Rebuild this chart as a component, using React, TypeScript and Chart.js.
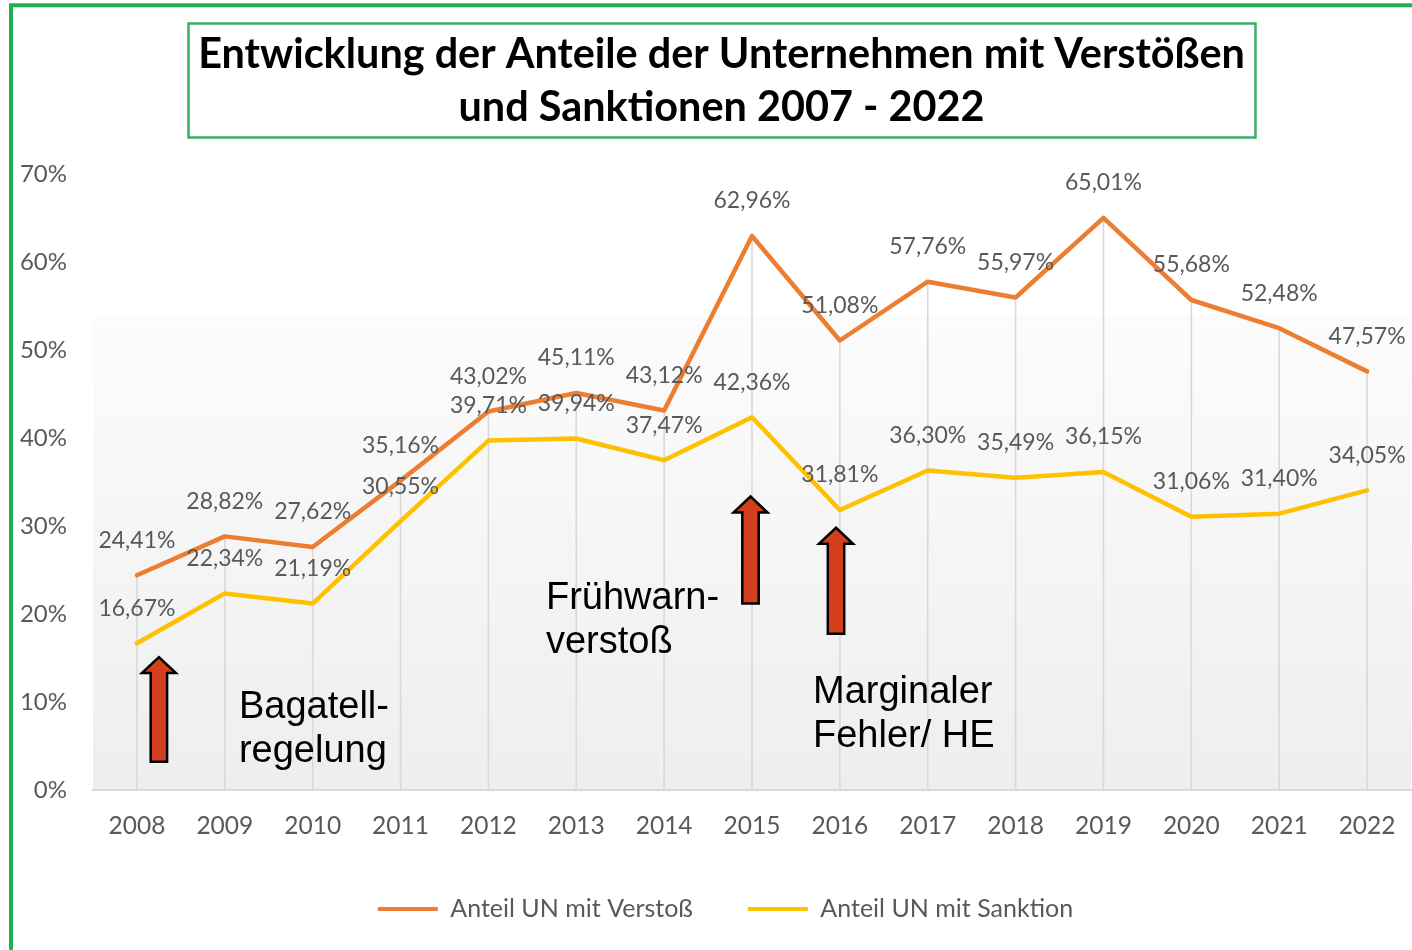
import React, { useEffect, useRef } from 'react';
import { Chart, registerables } from 'chart.js';

Chart.register(...registerables);

const years = ['2008', '2009', '2010', '2011', '2012', '2013', '2014', '2015', '2016', '2017', '2018', '2019', '2020', '2021', '2022'];
const verstoss = [24.41, 28.82, 27.62, 35.16, 43.02, 45.11, 43.12, 62.96, 51.08, 57.76, 55.97, 65.01, 55.68, 52.48, 47.57];
const sanktion = [16.67, 22.34, 21.19, 30.55, 39.71, 39.94, 37.47, 42.36, 31.81, 36.3, 35.49, 36.15, 31.06, 31.4, 34.05];
const seriesNames = ['Anteil UN mit Verstoß', 'Anteil UN mit Sanktion'];
const seriesColors = ['#ED7D31', '#FFC000'];
const titleLines = ['Entwicklung der Anteile der Unternehmen mit Verstößen', 'und Sanktionen 2007 - 2022'];
const yMin = 0;
const yMax = 70;
const yStep = 10;

// annotations in data units (x: category index, y: percent)
const notes = [
  { lines: ['Bagatell-', 'regelung'], x: 1.161, y: 8.19 },
  { lines: ['Frühwarn-', 'verstoß'], x: 4.655, y: 20.6 },
  { lines: ['Marginaler', 'Fehler/ HE'], x: 7.694, y: 9.9 },
];
const arrows = [
  { x: 0.25, tip: 15.1, base: 3.2 },
  { x: 6.983, tip: 33.35, base: 21.2 },
  { x: 7.956, tip: 29.8, base: 17.75 },
];

const fmt = (v: number) => v.toFixed(2).replace('.', ',') + '%';
const GRAY = '#595959';

const decorPlugin = {
  id: 'decor',
  afterLayout(chart: any) {
    if (chart.legend) {
      chart.legend.left = 40;
    }
  },
  beforeDraw(chart: any) {
    const { ctx, chartArea: a, scales } = chart;
    const y = scales.y;
    ctx.save();
    ctx.fillStyle = '#ffffff';
    ctx.fillRect(0, 0, chart.width, chart.height);
    const top = y.getPixelForValue(54);
    const g = ctx.createLinearGradient(0, top, 0, a.bottom);
    g.addColorStop(0, '#fcfcfc');
    g.addColorStop(1, '#eeeeee');
    ctx.fillStyle = g;
    ctx.fillRect(a.left, top, a.right - a.left, a.bottom - top);
    ctx.restore();
  },
  beforeDatasetsDraw(chart: any) {
    const { ctx, chartArea: a } = chart;
    const m0 = chart.getDatasetMeta(0).data;
    const m1 = chart.getDatasetMeta(1).data;
    ctx.save();
    ctx.strokeStyle = '#d9d9d9';
    ctx.lineWidth = 1.6;
    for (let i = 0; i < m0.length; i++) {
      const top = Math.min(m0[i].y, m1[i].y);
      ctx.beginPath();
      ctx.moveTo(m0[i].x, top);
      ctx.lineTo(m0[i].x, a.bottom);
      ctx.stroke();
    }
    ctx.restore();
  },
  afterDatasetsDraw(chart: any) {
    const { ctx } = chart;
    ctx.save();
    ctx.font = '23px Lato';
    ctx.fillStyle = GRAY;
    ctx.textAlign = 'center';
    ctx.textBaseline = 'middle';
    chart.data.datasets.forEach((ds: any, di: number) => {
      const meta = chart.getDatasetMeta(di);
      meta.data.forEach((p: any, i: number) => {
        ctx.fillText(fmt(ds.data[i]), p.x, p.y - 35);
      });
    });
    ctx.restore();
  },
  afterDraw(chart: any) {
    const { ctx, scales } = chart;
    const xs = scales.x;
    const ys = scales.y;
    ctx.save();
    // arrows
    arrows.forEach((ar) => {
      const cx = xs.getPixelForValue(ar.x);
      const tip = ys.getPixelForValue(ar.tip);
      const base = ys.getPixelForValue(ar.base);
      const sw = 8.2;
      const hw = 17;
      const hh = 16;
      ctx.beginPath();
      ctx.moveTo(cx, tip);
      ctx.lineTo(cx + hw, tip + hh);
      ctx.lineTo(cx + sw, tip + hh);
      ctx.lineTo(cx + sw, base);
      ctx.lineTo(cx - sw, base);
      ctx.lineTo(cx - sw, tip + hh);
      ctx.lineTo(cx - hw, tip + hh);
      ctx.closePath();
      ctx.fillStyle = '#d4401f';
      ctx.fill();
      ctx.lineWidth = 2.5;
      ctx.strokeStyle = '#000000';
      ctx.lineJoin = 'miter';
      ctx.stroke();
    });
    // notes
    ctx.font = '38px "Liberation Sans", Arial, sans-serif';
    ctx.fillStyle = '#000000';
    ctx.textAlign = 'left';
    ctx.textBaseline = 'alphabetic';
    notes.forEach((n) => {
      const x = xs.getPixelForValue(n.x);
      const y = ys.getPixelForValue(n.y);
      n.lines.forEach((l, i) => ctx.fillText(l, x, y + i * 44));
    });
    // title box
    ctx.strokeStyle = '#3aae66';
    ctx.lineWidth = 2.5;
    ctx.strokeRect(188.5, 23.5, 1067, 114);
    let size = 36;
    ctx.font = `bold ${size}px Lato`;
    const w = ctx.measureText(titleLines[0]).width;
    size = Math.min(44, size * 1047 / w);
    ctx.font = `bold ${size}px Lato`;
    ctx.fillStyle = '#000000';
    ctx.textAlign = 'center';
    ctx.fillText(titleLines[0], 721.5, 68);
    ctx.fillText(titleLines[1], 721.5, 120.5);
    // outer green border
    ctx.strokeStyle = '#1fb14f';
    ctx.lineWidth = 4;
    ctx.strokeRect(11, 5.3, chart.width + 20, chart.height + 20);
    ctx.restore();
  },
};

export default function App() {
  const ref = useRef<HTMLCanvasElement>(null);
  useEffect(() => {
    const chart = new Chart(ref.current as HTMLCanvasElement, {
      type: 'line',
      data: {
        labels: years,
        datasets: [
          {
            label: seriesNames[0],
            data: verstoss,
            borderColor: seriesColors[0],
            backgroundColor: seriesColors[0],
            borderWidth: 4.5,
            pointRadius: 0,
            tension: 0,
            borderJoinStyle: 'round',
            borderCapStyle: 'round',
          },
          {
            label: seriesNames[1],
            data: sanktion,
            borderColor: seriesColors[1],
            backgroundColor: seriesColors[1],
            borderWidth: 4.5,
            pointRadius: 0,
            tension: 0,
            borderJoinStyle: 'round',
            borderCapStyle: 'round',
          },
        ],
      },
      options: {
        animation: false,
        responsive: false,
        devicePixelRatio: 1,
        layout: { padding: { left: 12, right: 1, top: 174, bottom: 18.5 } },
        scales: {
          x: {
            offset: true,
            grid: { display: false, drawTicks: false },
            border: { display: true, color: '#d9d9d9', width: 2 },
            ticks: { color: GRAY, font: { family: 'Lato', size: 24.5 }, padding: 21, maxRotation: 0 },
            afterFit: (s: any) => {
              s.height = 51.5;
              s.paddingLeft = 0;
              s.paddingRight = 0;
            },
          },
          y: {
            min: yMin,
            max: yMax,
            grid: { display: false, drawTicks: false },
            border: { display: false },
            ticks: {
              stepSize: yStep,
              color: GRAY,
              font: { family: 'Lato', size: 24 },
              padding: 26,
              callback: (v: any) => v + '%',
            },
            afterFit: (s: any) => { s.width = 81; },
          },
        },
        plugins: {
          title: { display: false },
          tooltip: { enabled: false },
          legend: {
            position: 'bottom',
            labels: {
              color: GRAY,
              font: { family: 'Lato', size: 25 },
              boxWidth: 60,
              boxHeight: 4,
              padding: 55,
              generateLabels: (c: any) =>
                (Chart.defaults.plugins.legend.labels as any).generateLabels(c).map((l: any) => ({
                  ...l,
                  lineWidth: 0,
                  fillStyle: l.strokeStyle,
                })),
            },
          },
        },
      },
      plugins: [decorPlugin],
    } as any);
    return () => chart.destroy();
  }, []);
  return (
    <div style={{ position: 'absolute', left: 0, top: 0, width: 1412, height: 950 }}>
      <canvas ref={ref} width={1412} height={950} style={{ width: 1412, height: 950, display: 'block' }} />
    </div>
  );
}
